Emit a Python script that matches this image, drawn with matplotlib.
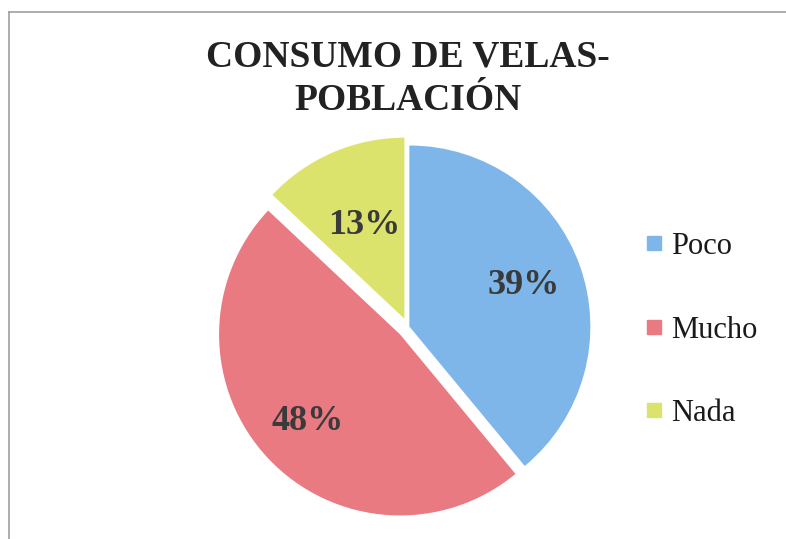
import matplotlib
matplotlib.use("Agg")
import numpy as np
import matplotlib.pyplot as plt
from matplotlib.lines import Line2D

categories = ["Poco", "Mucho", "Nada"]
values = [39, 48, 13]
colors = ["#7fb6ea", "#e97a82", "#dce36c"]
title = "CONSUMO DE VELAS-\nPOBLACIÓN"

W, H = 786, 539
R = 181
CX, CY = 408, H - 327
explode_frac = [0.008, 0.06, 0.05]
label_dist = [0.67, 0.70, 0.56]

fig = plt.figure(figsize=(W / 100, H / 100), dpi=100)
ax = fig.add_axes([0, 0, 1, 1])

serif = ["Liberation Serif", "DejaVu Serif"]

wedges, texts, autotexts = ax.pie(
    values,
    colors=colors,
    startangle=90,
    counterclock=False,
    explode=[e * R for e in explode_frac],
    radius=R,
    center=(CX, CY),
    autopct="%d%%",
    pctdistance=0.66,
    frame=True,
    wedgeprops=dict(linewidth=0),
    textprops=dict(fontfamily=serif, fontweight="bold", fontsize=26, color="#3a3a3a"),
)
for w, t, d in zip(wedges, autotexts, label_dist):
    th = np.deg2rad(0.5 * (w.theta1 + w.theta2))
    cx, cy = w.center
    t.set_position((cx + d * R * np.cos(th), cy + d * R * np.sin(th)))

ax.set_xlim(0, W)
ax.set_ylim(0, H)
ax.set_aspect("equal")
ax.axis("off")

fig.text(408 / W, 1 - 79 / H, title, ha="center", va="center",
         fontfamily=serif, fontweight="bold", fontsize=27, color="#222222",
         linespacing=1.3)

handles = [Line2D([0], [0], marker="s", linestyle="none", markersize=10.5,
                  markerfacecolor=c, markeredgecolor=c) for c in colors]
leg = fig.legend(handles, categories, loc="center left",
                 bbox_to_anchor=(639 / W, 1 - 330 / H),
                 frameon=False, prop=dict(family=serif, size=22),
                 labelspacing=1.78, handletextpad=0.05, handlelength=1.0,
                 borderpad=0, borderaxespad=0)
for t in leg.get_texts():
    t.set_color("#1a1a1a")

# chart border (top and left visible)
fig.add_artist(Line2D([9 / W, 1], [1 - 12 / H, 1 - 12 / H], color="#a0a0a0", lw=1.2))
fig.add_artist(Line2D([9 / W, 9 / W], [0, 1 - 12 / H], color="#a0a0a0", lw=1.2))

fig.savefig("out.png", dpi=100)
